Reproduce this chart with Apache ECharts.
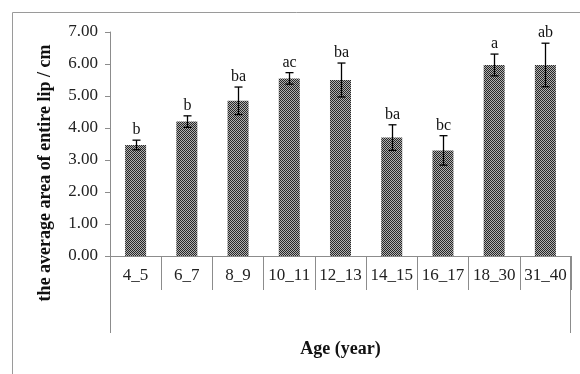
<!DOCTYPE html>
<html>
<head>
<meta charset="utf-8">
<script src="https://cdn.jsdelivr.net/npm/echarts@6/dist/echarts.min.js"></script>
<style>
  html, body { margin: 0; padding: 0; background: #fff; }
  #chart { width: 580px; height: 374px; }
</style>
</head>
<body>
<div id="chart"></div>
<script>
// Age groups and mean lip area with standard error and significance letters
const categories = ['4_5', '6_7', '8_9', '10_11', '12_13', '14_15', '16_17', '18_30', '31_40'];
const means = [3.47, 4.20, 4.85, 5.55, 5.50, 3.70, 3.30, 5.97, 5.97];
const errors = [0.15, 0.18, 0.43, 0.18, 0.53, 0.40, 0.46, 0.34, 0.68];
const groups = ['b', 'b', 'ba', 'ac', 'ba', 'ba', 'bc', 'a', 'ab'];
const yTicks = [0, 1, 2, 3, 4, 5, 6, 7];

const SERIF = '"Liberation Serif", "Times New Roman", serif';
const GRID = { left: 110, right: 9, top: 32, bottom: 118 };
const W = 580, H = 374;

// dotted dark fill used by the bars
function makePattern() {
  const c = document.createElement('canvas');
  c.width = 2; c.height = 2;
  const g = c.getContext('2d');
  g.fillStyle = '#b0b0b0'; g.fillRect(0, 0, 2, 2);
  g.fillStyle = '#262626'; g.fillRect(0, 0, 1, 1); g.fillRect(1, 1, 1, 1);
  return c;
}

const chart = echarts.init(document.getElementById('chart'), null, { renderer: 'canvas' });

const axisGray = '#8c8c8c';
const plotBottom = H - GRID.bottom;
const plotRight = W - GRID.right;

chart.setOption({
  animation: false,
  backgroundColor: '#fff',
  grid: GRID,
  xAxis: {
    type: 'category',
    data: categories,
    axisLine: { lineStyle: { color: axisGray, width: 1 } },
    axisTick: { show: true, interval: 0, alignWithLabel: false, length: 34, lineStyle: { color: axisGray } },
    axisLabel: { interval: 0, color: '#222', fontFamily: SERIF, fontSize: 17, margin: 11 },
    name: 'Age (year)',
    nameLocation: 'middle',
    nameGap: 84,
    nameTextStyle: { color: '#111', fontFamily: SERIF, fontSize: 18, fontWeight: 'bold' }
  },
  yAxis: {
    type: 'value',
    min: yTicks[0],
    max: yTicks[yTicks.length - 1],
    interval: 1,
    splitLine: { show: false },
    axisLine: { show: true, lineStyle: { color: axisGray, width: 1 } },
    axisTick: { show: true, length: 5, lineStyle: { color: axisGray } },
    axisLabel: {
      color: '#222', fontFamily: SERIF, fontSize: 17, margin: 12,
      formatter: v => v.toFixed(2)
    }
  },
  graphic: [
    // frame around the chart area
    { type: 'line', shape: { x1: 12.5, y1: 12.5, x2: W, y2: 12.5 }, style: { stroke: '#9a9a9a', lineWidth: 1 } },
    { type: 'line', shape: { x1: 12.5, y1: 12.5, x2: 12.5, y2: H }, style: { stroke: '#9a9a9a', lineWidth: 1 } },
    // extended category-axis borders
    { type: 'line', shape: { x1: GRID.left + 0.5, y1: plotBottom, x2: GRID.left + 0.5, y2: 333 }, style: { stroke: axisGray, lineWidth: 1 } },
    { type: 'line', shape: { x1: plotRight - 0.5, y1: plotBottom, x2: plotRight - 0.5, y2: 333 }, style: { stroke: axisGray, lineWidth: 1 } },
    // vertical axis title
    {
      type: 'text', x: 45, y: 173, rotation: Math.PI / 2,
      style: {
        text: 'the average area of entire lip / cm',
        font: 'bold 18px ' + SERIF, fill: '#111',
        textAlign: 'center', textVerticalAlign: 'middle'
      }
    }
  ],
  series: [
    {
      type: 'bar',
      data: means,
      barWidth: '41%',
      itemStyle: { color: { image: makePattern(), repeat: 'repeat' } }
    },
    {
      type: 'custom',
      data: means.map((m, i) => [i, m, errors[i]]),
      z: 5,
      renderItem: function (params, api) {
        const i = api.value(0), m = api.value(1), e = api.value(2);
        const hi = api.coord([i, m + e]);
        const lo = api.coord([i, m - e]);
        const half = 4;
        const x = Math.round(hi[0]) + 0.5;
        return {
          type: 'group',
          children: [
            { type: 'line', shape: { x1: x, y1: hi[1], x2: x, y2: lo[1] }, style: { stroke: '#000', lineWidth: 1.3 } },
            { type: 'line', shape: { x1: x - half, y1: hi[1], x2: x + half, y2: hi[1] }, style: { stroke: '#000', lineWidth: 1.3 } },
            { type: 'line', shape: { x1: x - half, y1: lo[1], x2: x + half, y2: lo[1] }, style: { stroke: '#000', lineWidth: 1.3 } },
            {
              type: 'text', x: x, y: hi[1] - 2,
              style: {
                text: groups[params.dataIndex],
                font: '16px ' + SERIF, fill: '#111',
                textAlign: 'center', textVerticalAlign: 'bottom'
              }
            }
          ]
        };
      }
    }
  ]
});
</script>
</body>
</html>
